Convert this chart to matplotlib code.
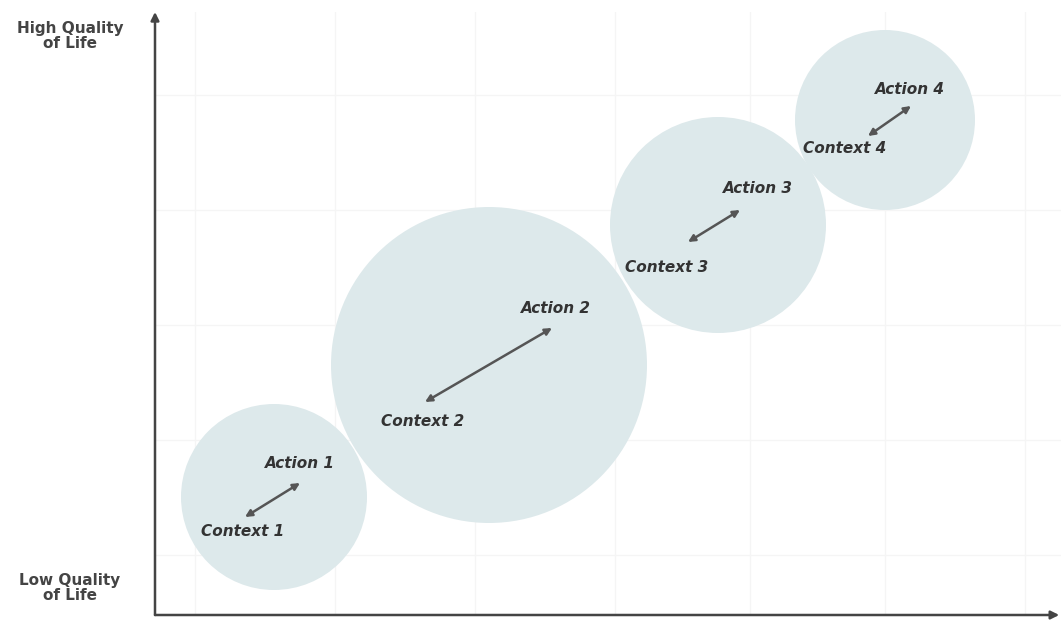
import matplotlib
matplotlib.use("Agg")
import matplotlib.pyplot as plt
from matplotlib.patches import Circle

# bubble centres / radii (arbitrary units, 1 unit ~ 100 px)
stages   = ["1", "2", "3", "4"]
cx       = [1.19, 3.34, 5.63, 7.30]
cy       = [1.18, 2.50, 3.90, 4.95]
radius   = [0.93, 1.58, 1.08, 0.90]

# double arrows context <-> action
arr_x0 = [0.90, 2.70, 5.33, 7.13]
arr_y0 = [0.98, 2.13, 3.73, 4.79]
arr_x1 = [1.45, 3.97, 5.85, 7.56]
arr_y1 = [1.32, 2.87, 4.05, 5.09]

# label anchors
act_x = [1.45, 4.01, 6.03, 7.55]
act_y = [1.51, 3.07, 4.27, 5.26]
ctx_x = [0.88, 2.68, 5.12, 6.90]
ctx_y = [0.83, 1.94, 3.48, 4.67]

grid_x = [0.4, 1.8, 3.2, 4.6, 5.95, 7.3, 8.7]
grid_y = [0.6, 1.75, 2.9, 4.05, 5.2]

fig = plt.figure(figsize=(10.61, 6.24), dpi=100)
ax = fig.add_axes([155/1061, 9/624, 906/1061, 603/624])
ax.set_xlim(0, 9.06)
ax.set_ylim(0, 6.03)
ax.set_aspect("equal")
ax.axis("off")

for gx in grid_x:
    ax.axvline(gx, color="#f5f5f5", lw=1, zorder=0)
for gy in grid_y:
    ax.axhline(gy, color="#f5f5f5", lw=1, zorder=0)

for i in range(len(stages)):
    ax.add_patch(Circle((cx[i], cy[i]), radius[i], facecolor="#dde9eb",
                        edgecolor="none", zorder=1))
    ax.annotate("", xy=(arr_x1[i], arr_y1[i]), xytext=(arr_x0[i], arr_y0[i]),
                arrowprops=dict(arrowstyle="<|-|>", color="#555555", lw=1.8,
                                mutation_scale=10, shrinkA=0, shrinkB=0),
                zorder=3)
    ax.text(act_x[i], act_y[i], "Action " + stages[i], ha="center", va="center",
            fontsize=11, fontweight="bold", style="italic", color="#333333", zorder=4)
    ax.text(ctx_x[i], ctx_y[i], "Context " + stages[i], ha="center", va="center",
            fontsize=11, fontweight="bold", style="italic", color="#333333", zorder=4)

# axis arrows
ax.annotate("", xy=(0, 1), xytext=(0, 0), xycoords="axes fraction",
            arrowprops=dict(arrowstyle="-|>", color="#444444", lw=1.8,
                            mutation_scale=12, shrinkA=0, shrinkB=0),
            annotation_clip=False)
ax.annotate("", xy=(0.998, 0), xytext=(0, 0), xycoords="axes fraction",
            arrowprops=dict(arrowstyle="-|>", color="#444444", lw=1.8,
                            mutation_scale=12, shrinkA=0, shrinkB=0),
            annotation_clip=False)

fig.text(70/1061, 1 - 36/624, "High Quality\nof Life", ha="center", va="center",
         fontsize=11, fontweight="bold", color="#444444", linespacing=0.95)
fig.text(70/1061, 1 - 588/624, "Low Quality\nof Life", ha="center", va="center",
         fontsize=11, fontweight="bold", color="#444444", linespacing=0.95)

fig.savefig("out.png", dpi=100, facecolor="white")
